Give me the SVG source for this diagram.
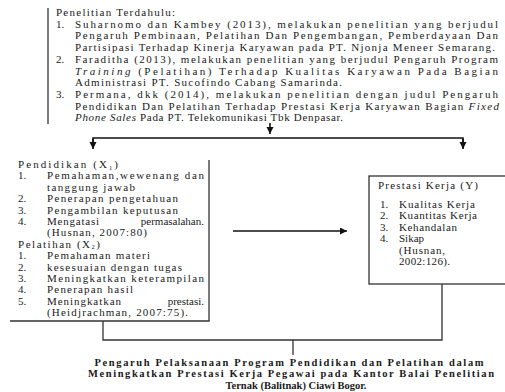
<svg xmlns="http://www.w3.org/2000/svg" width="505" height="392" viewBox="0 0 505 392">
<style>
.t{font-family:"Liberation Serif","Times New Roman",serif;font-size:11px;fill:#1a1a1a}
.b{font-weight:bold;font-size:10.5px}
.i{font-style:italic}
.sub{font-size:6.5px}
.ln{stroke:#333;stroke-width:1.3;fill:none}
.ar{stroke:#111;stroke-width:1.6;fill:none}
</style>
<defs>
<marker id="ah" markerUnits="userSpaceOnUse" markerWidth="8" markerHeight="8" refX="7" refY="3.5" orient="auto">
<path d="M0,0 L7,3.5 L0,7 z" fill="#111"/>
</marker>
</defs>
<rect width="505" height="392" fill="#fff"/>

<g id="top-box">
<line class="ln" x1="48" y1="8" x2="48" y2="124"/>
<text class="t" x="56" y="16" textLength="119" lengthAdjust="spacing">Penelitian Terdahulu:</text>
<text class="t" x="56" y="27.7">1.</text>
<text class="t" x="75" y="27.7" textLength="423" lengthAdjust="spacing">Suharnomo dan Kambey (2013), melakukan penelitian yang berjudul</text>
<text class="t" x="75" y="39.4" textLength="423" lengthAdjust="spacing">Pengaruh Pembinaan, Pelatihan Dan Pengembangan, Pemberdayaan Dan</text>
<text class="t" x="75" y="51.1" textLength="420" lengthAdjust="spacing">Partisipasi Terhadap Kinerja Karyawan pada PT. Njonja Meneer Semarang.</text>
<text class="t" x="56" y="62.8">2.</text>
<text class="t" x="75" y="62.8" textLength="423" lengthAdjust="spacing">Faraditha (2013), melakukan penelitian yang berjudul Pengaruh Program</text>
<text class="t" x="75" y="74.5" textLength="423" lengthAdjust="spacing"><tspan class="i">Training</tspan> (Pelatihan) Terhadap Kualitas Karyawan Pada Bagian</text>
<text class="t" x="75" y="86.2" textLength="267" lengthAdjust="spacing">Administrasi PT. Sucofindo Cabang Samarinda.</text>
<text class="t" x="56" y="97.9">3.</text>
<text class="t" x="75" y="97.9" textLength="423" lengthAdjust="spacing">Permana, dkk (2014), melakukan penelitian dengan judul Pengaruh</text>
<text class="t" x="75" y="109.6" textLength="424" lengthAdjust="spacing">Pendidikan Dan Pelatihan Terhadap Prestasi Kerja Karyawan Bagian <tspan class="i">Fixed</tspan></text>
<text class="t" x="75" y="121.3" textLength="268" lengthAdjust="spacing"><tspan class="i">Phone Sales</tspan> Pada PT. Telekomunikasi Tbk Denpasar.</text>
</g>

<g id="left-box">
<line class="ln" x1="209" y1="160" x2="209" y2="321"/>
<line class="ln" x1="10" y1="321" x2="209.6" y2="321"/>
<text class="t" x="18" y="168" textLength="100" lengthAdjust="spacing">Pendidikan (X<tspan class="sub" dy="1.5">1</tspan><tspan dy="-1.5">)</tspan></text>
<text class="t" x="18" y="179.4">1.</text>
<text class="t" x="47" y="179.4" textLength="157" lengthAdjust="spacing">Pemahaman,wewenang dan</text>
<text class="t" x="47" y="190.8" textLength="88" lengthAdjust="spacing">tanggung jawab</text>
<text class="t" x="18" y="202.2">2.</text>
<text class="t" x="47" y="202.2" textLength="131" lengthAdjust="spacing">Penerapan pengetahuan</text>
<text class="t" x="18" y="213.6">3.</text>
<text class="t" x="47" y="213.6" textLength="131" lengthAdjust="spacing">Pengambilan keputusan</text>
<text class="t" x="18" y="225">4.</text>
<text class="t" x="47" y="225" textLength="52" lengthAdjust="spacing">Mengatasi</text>
<text class="t" x="204" y="225" text-anchor="end">permasalahan.</text>
<text class="t" x="47" y="236.4" textLength="100" lengthAdjust="spacing">(Husnan, 2007:80)</text>
<text class="t" x="18" y="247.8" textLength="82" lengthAdjust="spacing">Pelatihan (X<tspan class="sub" dy="1.5">2</tspan><tspan dy="-1.5">)</tspan></text>
<text class="t" x="18" y="259.2">1.</text>
<text class="t" x="47" y="259.2" textLength="103" lengthAdjust="spacing">Pemahaman materi</text>
<text class="t" x="18" y="270.6">2.</text>
<text class="t" x="47" y="270.6" textLength="135" lengthAdjust="spacing">kesesuaian dengan tugas</text>
<text class="t" x="18" y="282">3.</text>
<text class="t" x="47" y="282" textLength="157" lengthAdjust="spacing">Meningkatkan keterampilan</text>
<text class="t" x="18" y="293.4">4.</text>
<text class="t" x="47" y="293.4" textLength="86" lengthAdjust="spacing">Penerapan hasil</text>
<text class="t" x="18" y="304.8">5.</text>
<text class="t" x="47" y="304.8" textLength="74" lengthAdjust="spacing">Meningkatkan</text>
<text class="t" x="204" y="304.8" text-anchor="end">prestasi.</text>
<text class="t" x="47" y="316.2" textLength="141" lengthAdjust="spacing">(Heidjrachman, 2007:75).</text>
</g>

<g id="right-box">
<rect class="ln" x="369" y="176" width="140" height="108"/>
<text class="t" x="378" y="188.5" textLength="100" lengthAdjust="spacing">Prestasi Kerja (Y)</text>
<text class="t" x="380" y="207.5">1.</text>
<text class="t" x="399" y="207.5" textLength="76" lengthAdjust="spacing">Kualitas Kerja</text>
<text class="t" x="380" y="219">2.</text>
<text class="t" x="399" y="219" textLength="78" lengthAdjust="spacing">Kuantitas Kerja</text>
<text class="t" x="380" y="230.5">3.</text>
<text class="t" x="399" y="230.5" textLength="58" lengthAdjust="spacing">Kehandalan</text>
<text class="t" x="380" y="242">4.</text>
<text class="t" x="399" y="242">Sikap</text>
<text class="t" x="399" y="253.5" textLength="46" lengthAdjust="spacing">(Husnan,</text>
<text class="t" x="399" y="265" textLength="51" lengthAdjust="spacing">2002:126).</text>
</g>

<g id="title">
<text class="t b" x="289" y="365.5" text-anchor="middle" textLength="389" lengthAdjust="spacing">Pengaruh Pelaksanaan Program Pendidikan dan Pelatihan dalam</text>
<text class="t b" x="291" y="377" text-anchor="middle" textLength="406" lengthAdjust="spacing">Meningkatkan Prestasi Kerja Pegawai pada Kantor Balai Penelitian</text>
<text class="t b" x="296" y="388.5" text-anchor="middle">Ternak (Balitnak) Ciawi Bogor.</text>
</g>

<g id="connectors">
<line class="ar" x1="270" y1="123" x2="270" y2="134" marker-end="url(#ah)"/>
<polyline class="ar" points="93,148 93,138 463,138 463,148"/>
<line class="ar" x1="93" y1="139" x2="93" y2="149" marker-end="url(#ah)"/>
<line class="ar" x1="463" y1="139" x2="463" y2="149" marker-end="url(#ah)"/>
<line class="ar" x1="233" y1="231" x2="347" y2="231" marker-end="url(#ah)"/>
<polyline class="ln" points="103,321 103,340 442,340 442,284"/>
<line class="ln" x1="293" y1="340" x2="293" y2="355"/>
</g>
</svg>
